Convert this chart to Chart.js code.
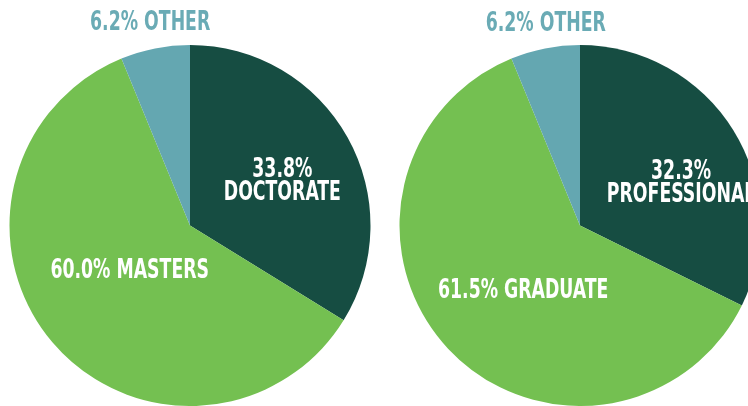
<!DOCTYPE html>
<html>
<head>
<meta charset="utf-8">
<script src="https://cdn.jsdelivr.net/npm/chart.js@4"></script>
<style>
  html, body { margin: 0; padding: 0; background: #fff; width: 748px; height: 406px; overflow: hidden; }
  .wrap { position: relative; width: 748px; height: 406px; overflow: hidden; }
  canvas { position: absolute; top: 0; }
</style>
</head>
<body>
<div class="wrap">
  <canvas id="leftPie" width="380" height="406" style="left:0"></canvas>
  <canvas id="rightPie" width="380" height="406" style="left:390px"></canvas>
</div>
<script>
// data
const leftCategories = ["DOCTORATE", "MASTERS", "OTHER"];
const leftValues = [33.8, 60.0, 6.2];
const rightCategories = ["PROFESSIONAL", "GRADUATE", "OTHER"];
const rightValues = [32.3, 61.5, 6.2];

const sliceColors = ["#164d42", "#74c051", "#64a7b1"];
const labelColors = ["#ffffff", "#ffffff", "#6aabb5"];
const labelFont = 'bold 26px "DejaVu Sans Condensed", "Liberation Sans Narrow", sans-serif';
const squeeze = 0.74; // the original type is a narrow display face

// per slice: radius fraction, angle shift (deg), split into two lines?
const leftPlace = [[0.57, 3, true], [0.42, 3, false], [1.14, 0, false]];
const rightPlace = [[0.61, 8.5, true], [0.48, -6, false], [1.13, 1.5, false]];

const sliceLabels = {
  id: "sliceLabels",
  afterDraw(chart, args, opts) {
    const ctx = chart.ctx;
    const meta = chart.getDatasetMeta(0);
    const vals = chart.data.datasets[0].data;
    meta.data.forEach((arc, i) => {
      const p = opts.place[i];
      const mid = (arc.startAngle + arc.endAngle) / 2 + p[1] * Math.PI / 180;
      const r = arc.outerRadius * p[0];
      const x = arc.x + Math.cos(mid) * r;
      const y = arc.y + Math.sin(mid) * r;
      const pct = vals[i].toFixed(1) + "%";
      const name = chart.data.labels[i];
      ctx.save();
      ctx.translate(x, y);
      ctx.scale(squeeze, 1);
      ctx.font = labelFont;
      ctx.textAlign = "center";
      ctx.textBaseline = "middle";
      ctx.fillStyle = labelColors[i];
      if (p[2]) {
        ctx.fillText(pct, 0, -10);
        ctx.fillText(name, 0, 13);
      } else {
        ctx.fillText(pct + " " + name, 0, 0);
      }
      ctx.restore();
    });
  }
};

function makePie(id, labels, values, place) {
  return new Chart(document.getElementById(id), {
    type: "pie",
    data: {
      labels: labels,
      datasets: [{
        data: values,
        backgroundColor: sliceColors,
        borderWidth: 0
      }]
    },
    options: {
      responsive: false,
      animation: false,
      layout: { padding: { top: 45 } },
      plugins: {
        legend: { display: false },
        tooltip: { enabled: false },
        sliceLabels: { place: place }
      }
    },
    plugins: [sliceLabels]
  });
}

makePie("leftPie", leftCategories, leftValues, leftPlace);
makePie("rightPie", rightCategories, rightValues, rightPlace);
</script>
</body>
</html>
